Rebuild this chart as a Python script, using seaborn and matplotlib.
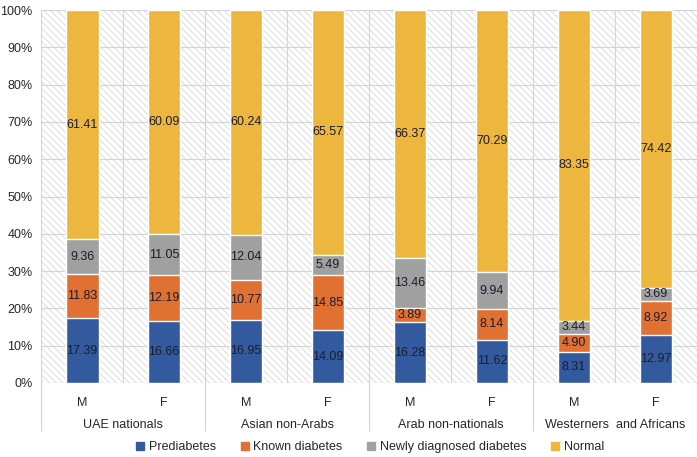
import numpy as np
import pandas as pd
import seaborn as sns
import matplotlib.pyplot as plt
from matplotlib.patches import Rectangle
from matplotlib.transforms import blended_transform_factory

groups = ["UAE nationals", "Asian non-Arabs", "Arab non-nationals", "Westerners  and Africans"]
sexes = ["M", "F"]
series = ["Prediabetes", "Known diabetes", "Newly diagnosed diabetes", "Normal"]
colors = ["#335A9E", "#E07132", "#A0A0A0", "#EDB73F"]

prediabetes = [17.39, 16.66, 16.95, 14.09, 16.28, 11.62, 8.31, 12.97]
known = [11.83, 12.19, 10.77, 14.85, 3.89, 8.14, 4.90, 8.92]
newly = [9.36, 11.05, 12.04, 5.49, 13.46, 9.94, 3.44, 3.69]
normal = [61.41, 60.09, 60.24, 65.57, 66.37, 70.29, 83.35, 74.42]

sns.set_theme(style="white")
plt.rcParams["font.family"] = ["Liberation Sans", "DejaVu Sans"]
plt.rcParams["hatch.linewidth"] = 0.7

vals = np.array([prediabetes, known, newly, normal])
cum = vals.cumsum(axis=0)
cats = [f"{g}|{s}" for g in groups for s in sexes]

fig, ax = plt.subplots(figsize=(6.97, 4.57), dpi=100)
fig.subplots_adjust(left=0.059, right=1.0, top=0.978, bottom=0.162)

# hatched background
ax.add_patch(Rectangle((0, 0), 1, 1, transform=ax.transAxes, hatch="\\\\\\\\\\",
                       edgecolor="#dcdcdc", facecolor="white", lw=0, zorder=0))

# stacked bars: draw tallest cumulative first
for i in range(3, -1, -1):
    df = pd.DataFrame({"cat": cats, "val": cum[i]})
    sns.barplot(data=df, x="cat", y="val", color=colors[i], width=0.4,
                saturation=1, ax=ax, zorder=3, order=cats)

for i in range(4):
    for j in range(8):
        y = cum[i][j] - vals[i][j] / 2
        ax.text(j, y, f"{vals[i][j]:.2f}", ha="center", va="center",
                fontsize=9, color="#1c1c2c", zorder=5)

ax.set_ylim(0, 100)
ax.set_xlim(-0.5, 7.5)
ax.set_yticks(range(0, 101, 10))
ax.set_yticklabels([f"{v}%" for v in range(0, 101, 10)], fontsize=9)
ax.set_ylabel("")
ax.set_xlabel("")
ax.set_xticks(range(8))
ax.set_xticklabels(sexes * 4, fontsize=9)
ax.tick_params(axis="x", length=0, pad=10)
ax.tick_params(axis="y", length=0, pad=6)

for v in range(10, 101, 10):
    ax.axhline(v, color="#d4d4d4", lw=0.8, zorder=1)
ax.axhline(0, color="#d4d4d4", lw=0.8, zorder=4)
for x in np.arange(-0.5, 8, 1):
    ax.axvline(x, color="#d4d4d4", lw=0.8, zorder=1)
for s in ax.spines.values():
    s.set_visible(False)

# group labels and separators below the axis
tr = blended_transform_factory(ax.transData, ax.transAxes)
for k, g in enumerate(groups):
    ax.text(2 * k + 0.5, -0.112, g, transform=tr, ha="center", va="center", fontsize=9)
for x in [-0.5, 1.5, 3.5, 5.5, 7.5]:
    ax.plot([x, x], [0, -0.13], transform=tr, color="#d4d4d4", lw=0.8, clip_on=False)

handles = [plt.Line2D([], [], marker="s", ls="", color=c, markersize=6) for c in colors]
ax.legend(handles, series, loc="center", bbox_to_anchor=(0.5, -0.172), ncol=4,
          frameon=False, fontsize=9, handletextpad=0.2, columnspacing=1.8,
          handlelength=1.0)

fig.savefig("out.png", dpi=100)
